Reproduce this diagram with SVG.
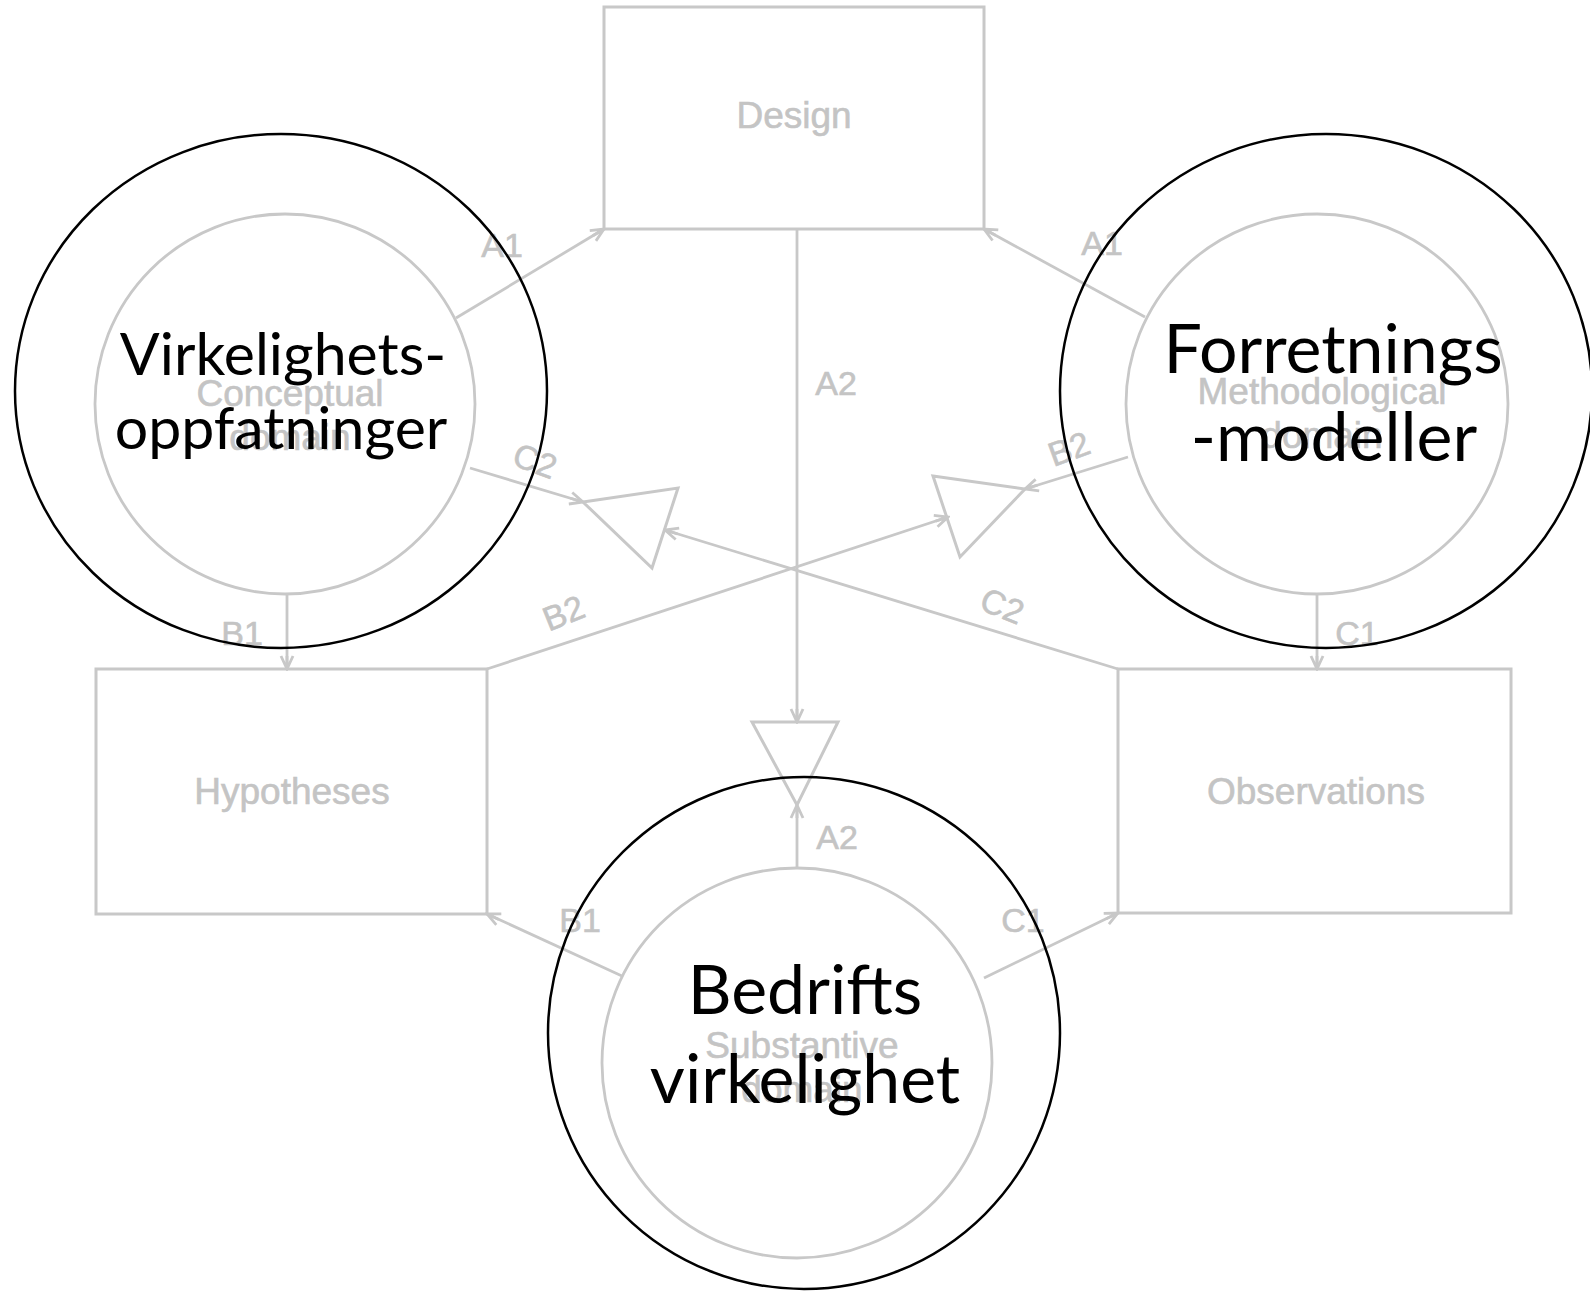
<svg xmlns="http://www.w3.org/2000/svg" width="1590" height="1292" viewBox="0 0 1590 1292">
  <style>
    .box { fill: none; stroke: #c8c8c8; stroke-width: 3; }
    .ring { fill: none; stroke: #c8c8c8; stroke-width: 2.8; }
    .edge { fill: none; stroke: #c8c8c8; stroke-width: 2.8; }
    .tri { fill: none; stroke: #c8c8c8; stroke-width: 3; stroke-linejoin: miter; }
    .lbl { font-family: "Liberation Sans", Arial, sans-serif; font-size: 37px; fill: #c4c4c4; stroke: #c4c4c4; stroke-width: 0.6; text-anchor: middle; }
    .tag { font-family: "Liberation Sans", Arial, sans-serif; font-size: 34px; fill: #c4c4c4; stroke: #c4c4c4; stroke-width: 0.6; text-anchor: middle; }
    .outer { fill: none; stroke: #000000; stroke-width: 2.5; }
    .big { font-family: Lato, "Noto Sans", sans-serif; fill: #000000; text-anchor: middle; }
  </style>
  <defs>
    <marker id="arr" viewBox="-15 -8 17 16" refX="0" refY="0" markerWidth="17" markerHeight="16" markerUnits="userSpaceOnUse" orient="auto">
      <path d="M -13 -6 L 0 0 L -13 6 M -13 0 L 0 0" fill="none" stroke="#c8c8c8" stroke-width="2.8"/>
    </marker>
  </defs>

  <rect width="1590" height="1292" fill="#ffffff"/>

  <!-- boxes -->
  <g id="design">
    <rect class="box" x="604" y="7" width="380" height="222"/>
    <text class="lbl" x="794" y="128">Design</text>
  </g>
  <g id="hypotheses">
    <rect class="box" x="96" y="669" width="391" height="245"/>
    <text class="lbl" x="292" y="804">Hypotheses</text>
  </g>
  <g id="observations">
    <rect class="box" x="1118" y="669" width="393" height="244"/>
    <text class="lbl" x="1316" y="804">Observations</text>
  </g>

  <!-- domains -->
  <g id="conceptual">
    <ellipse class="ring" cx="285" cy="404" rx="190" ry="190"/>
    <text class="lbl" x="290" y="406">Conceptual</text>
    <text class="lbl" x="290" y="450">domain</text>
  </g>
  <g id="methodological">
    <ellipse class="ring" cx="1317" cy="404" rx="191" ry="190"/>
    <text class="lbl" x="1322" y="404">Methodological</text>
    <text class="lbl" x="1322" y="448">domain</text>
  </g>
  <g id="substantive">
    <circle class="ring" cx="797" cy="1063" r="195"/>
    <text class="lbl" x="802" y="1058">Substantive</text>
    <text class="lbl" x="802" y="1102">domain</text>
  </g>

  <!-- junction triangles -->
  <g id="junction-left">
    <polygon class="tri" points="583,502 678,488 652,568"/>
  </g>
  <g id="junction-right">
    <polygon class="tri" points="933,476 1025,489 960,557"/>
  </g>
  <g id="junction-bottom">
    <polygon class="tri" points="752,722 838,722 797,805"/>
  </g>

  <!-- connectors -->
  <g id="connectors">
    <line class="edge" x1="456" y1="318" x2="604" y2="229" marker-end="url(#arr)"/>
    <line class="edge" x1="1145" y1="317" x2="984" y2="229" marker-end="url(#arr)"/>
    <line class="edge" x1="797" y1="229" x2="797" y2="722" marker-end="url(#arr)"/>
    <line class="edge" x1="797" y1="868" x2="797" y2="805" marker-end="url(#arr)"/>
    <line class="edge" x1="287" y1="594" x2="287" y2="669" marker-end="url(#arr)"/>
    <line class="edge" x1="1317" y1="594" x2="1317" y2="669" marker-end="url(#arr)"/>
    <line class="edge" x1="622" y1="976" x2="487" y2="914" marker-end="url(#arr)"/>
    <line class="edge" x1="984" y1="978" x2="1118" y2="913" marker-end="url(#arr)"/>
    <line class="edge" x1="470" y1="468" x2="583" y2="502" marker-end="url(#arr)"/>
    <line class="edge" x1="1128" y1="457" x2="1025" y2="489" marker-end="url(#arr)"/>
    <line class="edge" x1="487" y1="669" x2="948" y2="517" marker-end="url(#arr)"/>
    <line class="edge" x1="1118" y1="669" x2="665" y2="530" marker-end="url(#arr)"/>

    <text class="tag" x="502" y="257">A1</text>
    <text class="tag" x="1102" y="255">A1</text>
    <text class="tag" x="836" y="395">A2</text>
    <text class="tag" x="837" y="849">A2</text>
    <text class="tag" x="242" y="645">B1</text>
    <text class="tag" x="1357" y="645">C1</text>
    <text class="tag" x="580" y="932">B1</text>
    <text class="tag" x="1023" y="932">C1</text>
    <text class="tag" transform="translate(531 472) rotate(20)">C2</text>
    <text class="tag" transform="translate(568 624) rotate(-22)">B2</text>
    <text class="tag" transform="translate(998 617) rotate(22)">C2</text>
    <text class="tag" transform="translate(1073 460) rotate(-20)">B2</text>
  </g>

  <!-- overlay rings with Norwegian captions -->
  <g id="virkelighetsoppfatninger">
    <ellipse class="outer" cx="281" cy="391" rx="266" ry="257"/>
    <text class="big" font-size="59" x="283" y="375">Virkelighets-</text>
    <text class="big" font-size="59" x="281" y="449">oppfatninger</text>
  </g>
  <g id="forretningsmodeller">
    <ellipse class="outer" cx="1326" cy="391" rx="266" ry="257"/>
    <text class="big" font-size="68" x="1333" y="373">Forretnings</text>
    <text class="big" font-size="68" x="1334" y="461">-modeller</text>
  </g>
  <g id="bedriftsvirkelighet">
    <ellipse class="outer" cx="804" cy="1033" rx="256" ry="256"/>
    <text class="big" font-size="68" x="805" y="1014">Bedrifts</text>
    <text class="big" font-size="68" x="805" y="1103">virkelighet</text>
  </g>
</svg>
